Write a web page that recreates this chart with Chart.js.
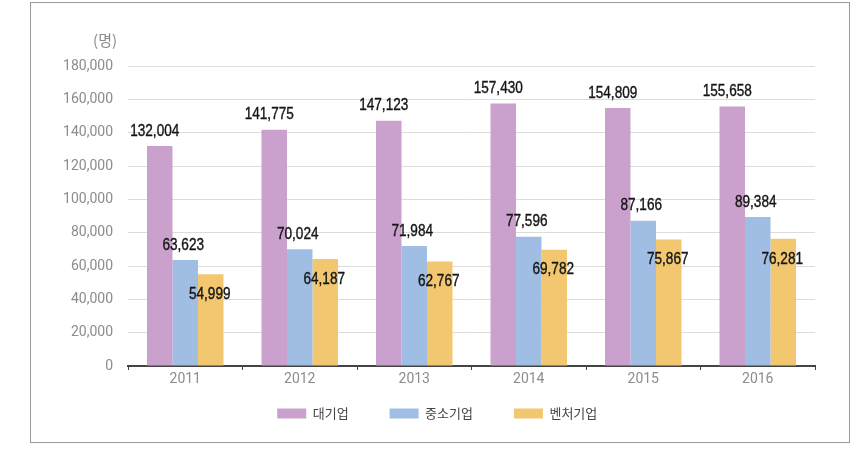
<!DOCTYPE html>
<html>
<head>
<meta charset="utf-8">
<script src="https://cdn.jsdelivr.net/npm/chart.js@4/dist/chart.umd.min.js"></script>
<style>
  body { margin: 0; background: #fff; }
  #frame { position: absolute; left: 30px; top: 2px; width: 818px; height: 439px; border: 1px solid #9a9a9a; }
  #chart { position: absolute; left: 0; top: 0; }
</style>
</head>
<body>
<div id="frame"></div>
<canvas id="chart" width="862" height="467"></canvas>
<script>
// 연도별 기업 유형별 인원 (명)
const years = ['2011', '2012', '2013', '2014', '2015', '2016'];
const bigCompany = [132004, 141775, 147123, 157430, 154809, 155658];
const smeCompany = [63623, 70024, 71984, 77596, 87166, 89384];
const ventureCompany = [54999, 64187, 62767, 69782, 75867, 76281];
const seriesNames = ['대기업', '중소기업', '벤처기업'];
const seriesColors = ['#c9a1cc', '#a0bde3', '#f2c770'];

const fmt = v => v.toLocaleString('en-US');

// label offsets per series: [dx, dy] from bar top
const labelOffsets = [[-5, -15], [-2, -15], [-1, 20]];

const valueLabels = {
    id: 'valueLabels',
    afterDatasetsDraw(chart) {
        const ctx = chart.ctx;
        ctx.save();
        ctx.font = '17px "Liberation Sans", Arial, sans-serif';
        ctx.fillStyle = '#161616';
        ctx.strokeStyle = '#161616';
        ctx.lineWidth = 0.4;
        ctx.textAlign = 'center';
        ctx.textBaseline = 'middle';
        chart.data.datasets.forEach((ds, i) => {
            const meta = chart.getDatasetMeta(i);
            const [dx, dy] = labelOffsets[i];
            meta.data.forEach((bar, j) => {
                const txt = fmt(ds.data[j]);
                // condensed look like the original
                const w = ctx.measureText(txt).width * 0.8;
                ctx.fillText(txt, bar.x + dx, bar.y + dy, w);
                ctx.strokeText(txt, bar.x + dx, bar.y + dy, w);
            });
        });
        ctx.restore();
    }
};

const unitLabel = {
    id: 'unitLabel',
    afterDraw(chart) {
        const ctx = chart.ctx;
        const area = chart.chartArea;
        ctx.save();
        ctx.font = '15px "Noto Sans CJK KR", sans-serif';
        ctx.fillStyle = '#8c8c8c';
        ctx.textAlign = 'right';
        ctx.textBaseline = 'middle';
        ctx.fillText('(명)', area.left - 11, area.top - 26);
        ctx.restore();
    }
};

// pull the legend up right under the axis labels
const legendShift = {
    id: 'legendShift',
    afterLayout(chart) {
        chart.legend.top -= 22;
        chart.legend.bottom -= 22;
    }
};

new Chart(document.getElementById('chart'), {
    type: 'bar',
    data: {
        labels: years,
        datasets: [bigCompany, smeCompany, ventureCompany].map((data, i) => ({
            label: seriesNames[i],
            data,
            backgroundColor: seriesColors[i],
            borderWidth: 0,
            categoryPercentage: 0.668,
            barPercentage: 1
        }))
    },
    options: {
        responsive: false,
        animation: false,
        layout: { padding: { left: 59.5, right: 47, top: 66, bottom: 19 } },
        plugins: {
            legend: {
                position: 'bottom',
                maxHeight: 60,
                labels: {
                    boxWidth: 29,
                    boxHeight: 10,
                    padding: 41,
                    color: '#444',
                    font: { family: '"Noto Sans CJK KR", sans-serif', size: 13 }
                }
            },
            tooltip: { enabled: false }
        },
        scales: {
            x: {
                afterFit(scale) { scale.height = 22; },
                grid: { drawOnChartArea: false, drawTicks: true, tickLength: 4, color: '#444', lineWidth: 1 },
                border: { color: '#444', width: 2 },
                ticks: { color: '#8c8c8c', padding: 1, font: { family: 'Roboto', size: 14 } }
            },
            y: {
                min: 0,
                max: 180000,
                afterFit(scale) { scale.width = 68.5; },
                grid: { color: '#dcdcdc', drawTicks: false },
                border: { display: false },
                ticks: {
                    stepSize: 20000,
                    padding: 15,
                    color: '#8c8c8c',
                    font: { family: 'Roboto', size: 14 },
                    callback: v => fmt(v)
                }
            }
        }
    },
    plugins: [valueLabels, unitLabel, legendShift]
});
</script>
</body>
</html>
